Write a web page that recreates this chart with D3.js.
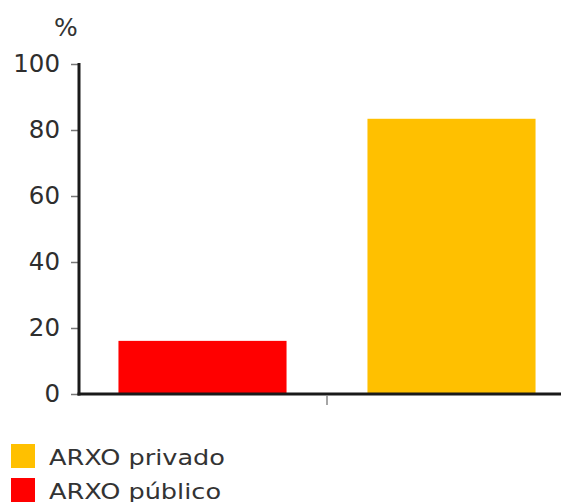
<!DOCTYPE html>
<html>
<head>
<meta charset="utf-8">
<script src="https://cdn.jsdelivr.net/npm/d3@7"></script>
<style>
html,body{margin:0;padding:0;background:#fff;}
svg{display:block;}
</style>
</head>
<body>
<svg id="chart" width="561" height="502"></svg>
<script>
const categories = ["ARXO público", "ARXO privado"];
const values = [16.1, 83.4];
const colors = ["#ff0000", "#ffc000"];
const yTicks = [0, 20, 40, 60, 80, 100];
const legendItems = ["ARXO privado", "ARXO público"];
const legendColors = ["#ffc000", "#ff0000"];
const unitLabel = "%";

const svg = d3.select("#chart");
const font = "'DejaVu Sans', Verdana, sans-serif";

const x = d3.scaleBand().domain(categories).range([78, 576])
  .paddingInner(0.325).paddingOuter(0.1625);
const y = d3.scaleLinear().domain([0, 100]).range([394, 64]);

// bars
svg.append("g").selectAll("rect").data(categories).join("rect")
  .attr("x", d => x(d))
  .attr("width", x.bandwidth())
  .attr("y", (d, i) => y(values[i]))
  .attr("height", (d, i) => y(0) - y(values[i]))
  .attr("fill", (d, i) => colors[i]);

// y axis
const yAxis = svg.append("g").attr("transform", "translate(79,0)")
  .call(d3.axisLeft(y).tickValues(yTicks).tickSize(8).tickPadding(11));
yAxis.select(".domain").remove();
yAxis.selectAll(".tick line").attr("stroke", "#777").attr("stroke-width", 1.5);
yAxis.selectAll(".tick text").attr("font-family", font).attr("font-size", 24.5)
  .attr("fill", "#2e2e2e");
svg.append("line").attr("x1", 79).attr("x2", 79).attr("y1", y(100) - 1).attr("y2", y(0) + 1.5)
  .attr("stroke", "#1a1a1a").attr("stroke-width", 3);

// x axis
svg.append("line").attr("x1", 77.5).attr("x2", 576).attr("y1", y(0)).attr("y2", y(0))
  .attr("stroke", "#1a1a1a").attr("stroke-width", 3);
const boundary = x(categories[1]) - x.step() * x.paddingInner() / 2;
svg.append("line").attr("x1", boundary).attr("x2", boundary)
  .attr("y1", y(0) + 1.5).attr("y2", y(0) + 11)
  .attr("stroke", "#888").attr("stroke-width", 1.5);

// unit label
svg.append("text").attr("x", 66).attr("y", 36).attr("text-anchor", "middle")
  .attr("font-family", font).attr("font-size", 25).attr("fill", "#333")
  .text(unitLabel);

// legend
const lg = svg.append("g");
legendItems.forEach((name, i) => {
  const g = lg.append("g").attr("transform", `translate(0,${i * 34})`);
  g.append("rect").attr("x", 11).attr("y", 444).attr("width", 24).attr("height", 24)
    .attr("fill", legendColors[i]);
  g.append("text").attr("transform", "translate(49,465) scale(1.19,1)")
    .attr("font-family", font).attr("font-size", 21.5).attr("fill", "#333")
    .text(name);
});
</script>
</body>
</html>
